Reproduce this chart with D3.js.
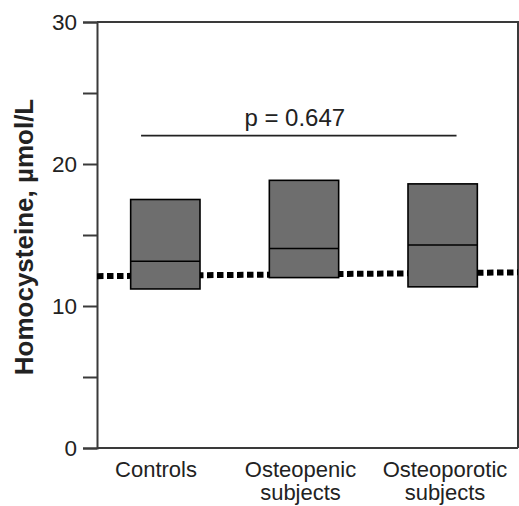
<!DOCTYPE html>
<html>
<head>
<meta charset="utf-8">
<script src="https://cdn.jsdelivr.net/npm/d3@7"></script>
<style>
  html, body { margin: 0; padding: 0; background: #fff; }
  svg { display: block; font-family: "Liberation Sans", Arial, sans-serif; }
</style>
</head>
<body>
<svg id="chart" width="519" height="506"></svg>
<script>
// ---- data ----
const categories = ["Controls", "Osteopenic subjects", "Osteoporotic subjects"];
const q1Values = [11.2, 12.0, 11.35];
const medianValues = [13.15, 14.05, 14.3];
const q3Values = [17.5, 18.85, 18.6];
const refLineValues = [12.1, 12.37];      // dotted reference line, left end / right end
const pLineValue = 22;
const pText = "p = 0.647";
const yTicks = [0, 5, 10, 15, 20, 25, 30];
const yTickLabels = ["0", "", "10", "", "20", "", "30"];
const yLabel = "Homocysteine, \u00b5mol/L";

(function () {
// ---- layout ----
const svg = d3.select("#chart");
const mLeft = 97, mRight = 518, mTop = 22, mBottom = 448;

const y = d3.scaleLinear().domain([0, 30]).range([mBottom, mTop]);
const x = d3.scaleBand().domain(categories).range([96, 512]).paddingInner(0.5).paddingOuter(0.25);
const xLabel = d3.scalePoint().domain(categories).range([156, 445]);
const xFrac = d3.scaleLinear().domain([0, 1]).range([mLeft, mRight]);

// frame (top + right)
svg.append("path")
  .attr("d", `M${mLeft},${mTop}H${mRight}V${mBottom}`)
  .attr("fill", "none").attr("stroke", "#3a3a3a").attr("stroke-width", 2);

// y axis
const yAxis = d3.axisLeft(y).tickValues(yTicks).tickSize(14).tickPadding(6)
  .tickFormat((d, i) => yTickLabels[i]);
const gy = svg.append("g").attr("transform", `translate(${mLeft},0)`).call(yAxis);
gy.select(".domain").attr("stroke", "#3a3a3a").attr("stroke-width", 2);
gy.selectAll(".tick line").attr("stroke", "#3a3a3a").attr("stroke-width", 2);
gy.selectAll(".tick text").attr("font-size", 22.5).attr("fill", "#222")
  .attr("font-family", "Liberation Sans, Arial, sans-serif");

// bottom axis line
svg.append("line").attr("x1", mLeft).attr("x2", mRight).attr("y1", mBottom).attr("y2", mBottom)
  .attr("stroke", "#3a3a3a").attr("stroke-width", 2);

// dotted reference line (behind boxes)
svg.append("line")
  .attr("x1", xFrac(0)).attr("x2", xFrac(1))
  .attr("y1", y(refLineValues[0])).attr("y2", y(refLineValues[1]))
  .attr("stroke", "#000").attr("stroke-width", 6).attr("stroke-dasharray", "6.5,3.5");

// boxes
const boxes = svg.append("g").selectAll("g").data(categories).join("g");
boxes.append("rect")
  .attr("x", d => x(d))
  .attr("width", x.bandwidth())
  .attr("y", (d, i) => y(q3Values[i]))
  .attr("height", (d, i) => y(q1Values[i]) - y(q3Values[i]))
  .attr("fill", "#6e6e6e").attr("stroke", "#000").attr("stroke-width", 1.6);
boxes.append("line")
  .attr("x1", d => x(d)).attr("x2", d => x(d) + x.bandwidth())
  .attr("y1", (d, i) => y(medianValues[i])).attr("y2", (d, i) => y(medianValues[i]))
  .attr("stroke", "#000").attr("stroke-width", 1.6);

// p-value bracket line
const pX1 = x(categories[0]) + x.bandwidth() * 0.15;
const pX2 = x(categories[2]) + x.bandwidth() * 0.7;
svg.append("line").attr("x1", pX1).attr("x2", pX2)
  .attr("y1", y(pLineValue)).attr("y2", y(pLineValue))
  .attr("stroke", "#222").attr("stroke-width", 1.6);
svg.append("text").attr("x", (pX1 + pX2) / 2 - 4).attr("y", y(pLineValue) - 10)
  .attr("text-anchor", "middle").attr("font-size", 24).attr("fill", "#222").text(pText);

// category labels
const cl = svg.append("g").selectAll("text").data(categories).join("text")
  .attr("text-anchor", "middle").attr("font-size", 22).attr("fill", "#222")
  .attr("x", d => xLabel(d)).attr("y", 477);
cl.each(function (d) {
  const words = d.split(" ");
  const t = d3.select(this);
  words.forEach((w, i) => {
    t.append("tspan").attr("x", xLabel(d)).attr("dy", i === 0 ? 0 : 22.5).text(w);
  });
});

// y axis title
svg.append("text")
  .attr("transform", `translate(33,237) rotate(-90)`)
  .attr("text-anchor", "middle").attr("font-size", 26).attr("font-weight", "bold")
  .attr("fill", "#222").text(yLabel);
})();
</script>
</body>
</html>
